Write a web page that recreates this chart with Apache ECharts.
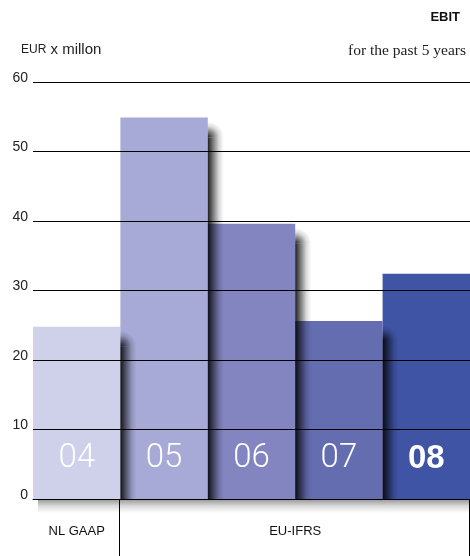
<!DOCTYPE html>
<html>
<head>
<meta charset="utf-8">
<script src="https://cdn.jsdelivr.net/npm/echarts@6/dist/echarts.min.js"></script>
<style>
  html, body { margin: 0; padding: 0; background: #fff; }
  #chart { width: 470px; height: 556px; }
</style>
</head>
<body>
<div id="chart"></div>
<script>
// EBIT per year, EUR x million
const categories = ['04', '05', '06', '07', '08'];
const ebit = [24.8, 54.9, 39.6, 25.6, 32.4];
const barColors = ['#cfd0ea', '#a7a9d6', '#8285c0', '#656db1', '#3f54a5'];
const boldYears = ['08'];
const yTicks = { min: 0, max: 60, interval: 10 };

// Accounting standard groups under the axis
const groupNames = ['NL GAAP', 'EU-IFRS'];
const groupFrom = ['04', '05'];
const groupTo = ['04', '08'];

const SANS = '"Liberation Sans", Arial, Helvetica, sans-serif';
const SERIF = '"Liberation Serif", "DejaVu Serif", serif';

// Cast shadow: a soft dark band along the right side of each bar and a
// lighter one under the base line, layered above all bars.
const SH = { side: 16, drop: 4, under: 14 };
const sideFade = () => new echarts.graphic.LinearGradient(0, 0, 1, 0, [
  { offset: 0, color: 'rgba(0,0,0,0.88)' },
  { offset: 0.35, color: 'rgba(0,0,0,0.5)' },
  { offset: 0.7, color: 'rgba(0,0,0,0.15)' },
  { offset: 1, color: 'rgba(0,0,0,0)' }
]);
const cornerFade = () => new echarts.graphic.RadialGradient(0, 1, 1, [
  { offset: 0, color: 'rgba(0,0,0,0.88)' },
  { offset: 0.35, color: 'rgba(0,0,0,0.5)' },
  { offset: 0.7, color: 'rgba(0,0,0,0.15)' },
  { offset: 1, color: 'rgba(0,0,0,0)' }
]);
const underFade = () => new echarts.graphic.LinearGradient(0, 0, 0, 1, [
  { offset: 0, color: 'rgba(0,0,0,0.42)' },
  { offset: 0.5, color: 'rgba(0,0,0,0.15)' },
  { offset: 1, color: 'rgba(0,0,0,0)' }
]);

function renderBar(params, api) {
  const i = params.dataIndex;
  const idx = api.value(0);
  const top = api.coord([idx, api.value(1)]);
  const base = api.coord([idx, 0]);
  const w = api.size([1, 0])[0];
  const L = base[0] - w / 2, R = base[0] + w / 2;
  const cat = categories[i];
  const bold = boldYears.includes(cat);
  const sideTop = top[1] + SH.drop + SH.side;
  return {
    type: 'group',
    children: [
      {
        type: 'rect', z2: 1,
        shape: { x: L, y: top[1], width: w, height: base[1] - top[1] },
        style: { fill: barColors[i] }
      },
      {
        type: 'rect', z2: 10,
        shape: { x: R, y: sideTop, width: SH.side, height: base[1] - sideTop },
        style: { fill: sideFade() }
      },
      {
        type: 'rect', z2: 10,
        shape: { x: R, y: top[1] + SH.drop, width: SH.side, height: SH.side },
        style: { fill: cornerFade() }
      },
      {
        type: 'rect', z2: 10,
        shape: { x: L + 5, y: base[1], width: w, height: SH.under },
        style: { fill: underFade() }
      },
      {
        type: 'text', z2: 100,
        style: {
          text: cat,
          x: base[0],
          y: base[1] - 40,
          align: 'center',
          verticalAlign: 'middle',
          fontSize: 33,
          fontFamily: bold ? SANS : 'Roboto, ' + SANS,
          fontWeight: bold ? 'bold' : 300,
          fill: '#fff'
        }
      }
    ]
  };
}

const chart = echarts.init(document.getElementById('chart'), null, { renderer: 'canvas' });

chart.setOption({
  animation: false,
  title: [
    {
      text: 'EBIT', right: 10, top: 11, padding: 0,
      textStyle: { fontFamily: SANS, fontSize: 13, fontWeight: 'bold', color: '#111' }
    },
    {
      text: '{a|EUR}{b| x millon}', left: 21, top: 42, padding: 0,
      textStyle: {
        fontWeight: 'normal',
        rich: {
          a: { fontFamily: SANS, fontSize: 12, fontWeight: 'normal', color: '#222' },
          b: { fontFamily: SANS, fontSize: 15, fontWeight: 'normal', color: '#222' }
        }
      }
    },
    {
      text: 'for the past 5 years', right: 4, top: 43, padding: 0,
      textStyle: { fontFamily: SERIF, fontSize: 15.5, fontWeight: 'normal', color: '#222' }
    }
  ],
  grid: { left: 33, right: 0, top: 82, bottom: 57, containLabel: false },
  xAxis: {
    type: 'category',
    data: categories,
    z: 20,
    axisLine: { show: true, lineStyle: { color: '#000', width: 1 } },
    axisTick: { show: false },
    axisLabel: { show: false },
    splitLine: { show: false }
  },
  yAxis: {
    type: 'value',
    min: yTicks.min, max: yTicks.max, interval: yTicks.interval,
    z: 20,
    axisLine: { show: false },
    axisTick: { show: false },
    axisLabel: {
      fontFamily: SANS, fontSize: 14, color: '#222', margin: 5,
      verticalAlign: 'bottom', padding: [0, 0, -3, 0]
    },
    splitLine: { show: true, lineStyle: { color: '#000', width: 1 } }
  },
  series: [{
    type: 'custom',
    renderItem: renderBar,
    encode: { x: 0, y: 1 },
    clip: false,
    data: categories.map((c, i) => [c, ebit[i]])
  }]
});

// Group captions and dividers below the category axis, placed from the axis scale
function drawGroups() {
  const px = c => chart.convertToPixel({ xAxisIndex: 0 }, c);
  const band = Math.abs(px(categories[1]) - px(categories[0]));
  const y0 = chart.convertToPixel({ yAxisIndex: 0 }, 0);
  const h = chart.getHeight();
  const elements = [];
  groupNames.forEach((name, g) => {
    const a = px(groupFrom[g]), b = px(groupTo[g]);
    const left = Math.min(a, b) - band / 2;
    const right = Math.max(a, b) + band / 2;
    elements.push({
      type: 'text',
      style: {
        text: name, x: (left + right) / 2, y: (y0 + h) / 2 + 4,
        align: 'center', verticalAlign: 'middle',
        font: '13px ' + SANS, fill: '#111'
      }
    });
    const xr = Math.min(Math.round(right) - 0.5, chart.getWidth() - 0.5);
    elements.push({
      type: 'line',
      shape: { x1: xr, y1: y0, x2: xr, y2: h },
      style: { stroke: '#000', lineWidth: 1 }
    });
  });
  chart.setOption({ graphic: elements });
}
drawGroups();
</script>
</body>
</html>
